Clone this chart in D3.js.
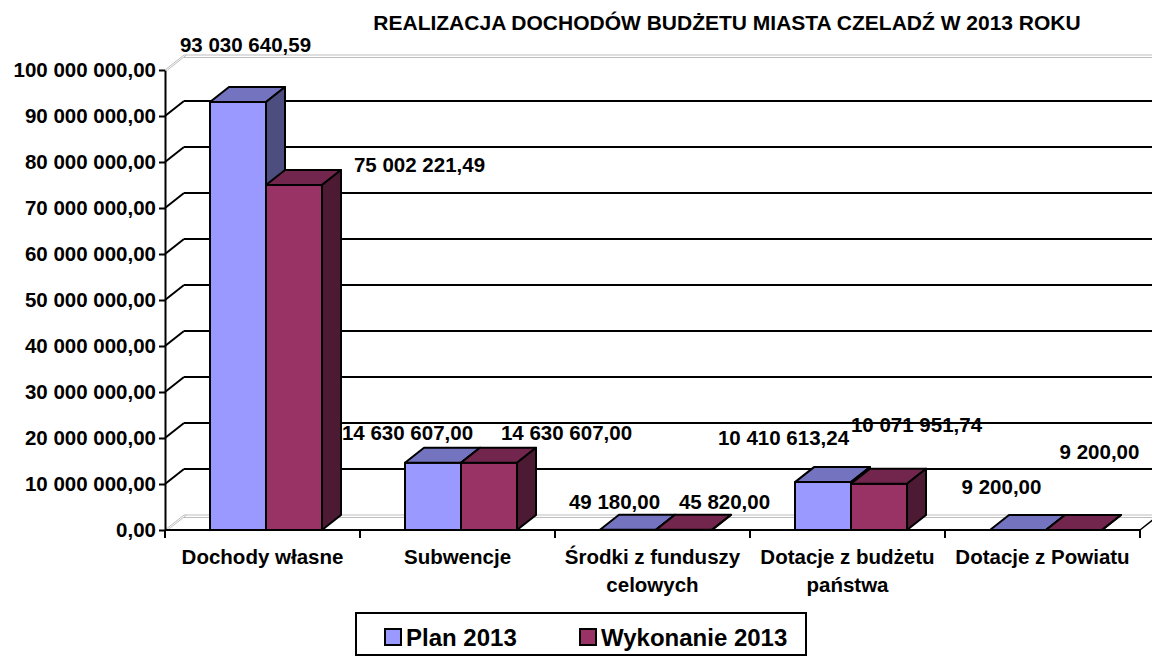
<!DOCTYPE html>
<html>
<head>
<meta charset="utf-8">
<script src="https://d3js.org/d3.v7.min.js"></script>
<style>
  body { margin: 0; background: #fff; }
  text { font-family: "Liberation Sans", Arial, sans-serif; font-weight: bold; fill: #000; }
</style>
</head>
<body>
<svg width="1152" height="656"></svg>
<script>

    // data
    const categories = ["Dochody własne", "Subwencje", "Środki z funduszy\ncelowych", "Dotacje z budżetu\npaństwa", "Dotacje z Powiatu"];
    const seriesNames = ["Plan 2013", "Wykonanie 2013"];
    const plan = [93030640.59, 14630607.00, 49180.00, 10410613.24, 9200.00];
    const wykonanie = [75002221.49, 14630607.00, 45820.00, 10071951.74, 9200.00];
    const yTicks = [0, 10000000, 20000000, 30000000, 40000000, 50000000, 60000000, 70000000, 80000000, 90000000, 100000000];

    // label nudges (px) relative to the back-top centre of each bar, as Excel placed them
    const planNudge = [[-2, -42], [-35, -15], [-23, -13], [-49, -29], [-26, -28]];
    const wykNudge = [[116, -5], [68, -15], [31, -13], [28, -44], [16, -63]];

    const colors = {
        "Plan 2013": {front: "#9999ff", top: "#7373bf", side: "#4d4d80"},
        "Wykonanie 2013": {front: "#993366", top: "#73264d", side: "#4d1a33"}
    };

    const pl = d3.formatLocale({decimal: ",", thousands: " ", grouping: [3], currency: ["", ""]});
    const fmt = pl.format(",.2f");

    const svg = d3.select("svg"),
        width = +svg.attr("width"),
        height = +svg.attr("height");

    const dx = 19, dy = -15;   // 3D depth
    const x = d3.scaleBand().domain(categories).range([165, 1140]);
    const xs = d3.scaleBand().domain(seriesNames).range([45, 157]);
    const y = d3.scaleLinear().domain([0, 100000000]).range([530, 70]);

    const values = {"Plan 2013": plan, "Wykonanie 2013": wykonanie};
    const nudges = {"Plan 2013": planNudge, "Wykonanie 2013": wykNudge};
    const fs = "20.5px";

    // title
    svg.append("text")
        .attr("x", 727).attr("y", 22).attr("dy", "0.36em")
        .attr("text-anchor", "middle")
        .style("font-size", "21px")
        .text("REALIZACJA DOCHODÓW BUDŻETU MIASTA CZELADŹ W 2013 ROKU");

    // walls: gridlines on the back wall, diagonals on the left wall
    const x0 = x.range()[0], x1 = x.range()[1];
    const grid = svg.append("g");
    yTicks.forEach(t => {
        const yy = y(t);
        const edge = (t === 0 || t === 100000000);
        if (edge) {
            [0, 2.5].forEach(o => {
                grid.append("line")
                    .attr("x1", x0 + dx).attr("x2", width)
                    .attr("y1", yy + dy + o).attr("y2", yy + dy + o)
                    .attr("stroke", "#bdbdbd").attr("stroke-width", 1);
                grid.append("line")
                    .attr("x1", x0 + o).attr("x2", x0 + dx + o)
                    .attr("y1", yy).attr("y2", yy + dy)
                    .attr("stroke", "#bdbdbd").attr("stroke-width", 1);
            });
        } else {
            grid.append("line")
                .attr("x1", x0 + dx).attr("x2", width)
                .attr("y1", yy + dy).attr("y2", yy + dy)
                .attr("stroke", "#000").attr("stroke-width", 2);
            grid.append("line")
                .attr("x1", x0).attr("x2", x0 + dx)
                .attr("y1", yy).attr("y2", yy + dy)
                .attr("stroke", "#000").attr("stroke-width", 2);
        }
    });
    // right edge of floor
    grid.append("line")
        .attr("x1", x1).attr("x2", x1 + dx)
        .attr("y1", y(0)).attr("y2", y(0) + dy)
        .attr("stroke", "#000").attr("stroke-width", 1.5);

    // y axis
    const yAxis = d3.axisLeft(y).tickValues(yTicks).tickFormat(fmt).tickSize(6).tickSizeOuter(0).tickPadding(3);
    const gy = svg.append("g").attr("transform", "translate(" + x0 + ",0)").call(yAxis);
    gy.select(".domain").attr("stroke", "#000").attr("stroke-width", 2);
    gy.selectAll(".tick line").attr("stroke", "#000").attr("stroke-width", 2);
    gy.selectAll(".tick text").style("font-size", fs).attr("font-family", null).attr("font-size", null);

    // x axis
    const gx = svg.append("g").attr("transform", "translate(0," + y(0) + ")");
    gx.append("line").attr("x1", x0).attr("x2", x1).attr("y1", 0).attr("y2", 0)
        .attr("stroke", "#000").attr("stroke-width", 2);
    categories.concat([null]).forEach(c => {
        const xx = c === null ? x1 : x(c);
        gx.append("line").attr("x1", xx).attr("x2", xx).attr("y1", 0).attr("y2", 8)
            .attr("stroke", "#000").attr("stroke-width", 2);
    });
    categories.forEach(c => {
        const t = gx.append("text")
            .attr("text-anchor", "middle")
            .attr("x", x(c) + x.bandwidth() / 2)
            .attr("y", 27)
            .style("font-size", fs);
        c.split("\n").forEach((line, i) => {
            t.append("tspan").attr("x", x(c) + x.bandwidth() / 2).attr("dy", i === 0 ? "0.36em" : 28).text(line);
        });
    });

    // bars
    const bars = svg.append("g").attr("stroke", "#000").attr("stroke-width", 2).attr("stroke-linejoin", "round");
    categories.forEach((c, i) => {
        seriesNames.forEach(s => {
            const v = values[s][i];
            const left = x(c) + xs(s), right = left + xs.bandwidth();
            const top = y(v), bottom = y(0);
            const col = colors[s];
            bars.append("rect")
                .attr("x", left).attr("y", top)
                .attr("width", right - left).attr("height", bottom - top)
                .attr("fill", col.front);
            bars.append("path")
                .attr("d", d3.line()([[left, top], [left + dx, top + dy], [right + dx, top + dy], [right, top]]) + "Z")
                .attr("fill", col.top);
            bars.append("path")
                .attr("d", d3.line()([[right, top], [right + dx, top + dy], [right + dx, bottom + dy], [right, bottom]]) + "Z")
                .attr("fill", col.side);
        });
    });

    // value labels
    const labels = svg.append("g");
    categories.forEach((c, i) => {
        seriesNames.forEach(s => {
            const v = values[s][i];
            const cx = x(c) + xs(s) + xs.bandwidth() / 2 + dx / 2;
            const cy = y(v) + dy;
            const n = nudges[s][i];
            labels.append("text")
                .attr("x", cx + n[0]).attr("y", cy + n[1]).attr("dy", "0.36em")
                .attr("text-anchor", "middle")
                .style("font-size", fs)
                .text(fmt(v));
        });
    });

    // legend
    const lg = svg.append("g");
    lg.append("rect").attr("x", 356).attr("y", 613).attr("width", 450).attr("height", 42)
        .attr("fill", "#fff").attr("stroke", "#000").attr("stroke-width", 2);
    const legendX = d3.scaleOrdinal().domain(seriesNames).range([385, 580]);
    seriesNames.forEach(s => {
        lg.append("rect").attr("x", legendX(s)).attr("y", 629).attr("width", 16).attr("height", 16)
            .attr("fill", colors[s].front).attr("stroke", "#000").attr("stroke-width", 2);
        lg.append("text").attr("x", legendX(s) + 21).attr("y", 637).attr("dy", "0.36em")
            .style("font-size", "24px").text(s);
    });

</script>
</body>
</html>
